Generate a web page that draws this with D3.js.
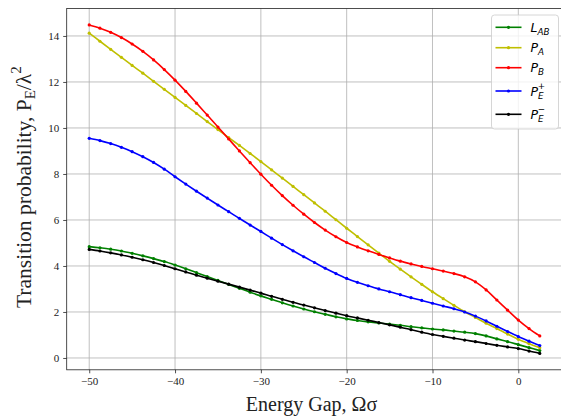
<!DOCTYPE html>
<html>
<head>
<meta charset="utf-8">
<script src="https://cdn.jsdelivr.net/npm/d3@7"></script>
<style>
body { margin:0; background:#fff; }
svg { display:block; }
</style>
</head>
<body>
<svg id="chart"></svg>
<script>
// energy gap values (x)
const energyGap = [-50, -48.75, -47.5, -46.25, -45, -43.75, -42.5, -41.25, -40, -38.75, -37.5, -36.25,
  -35, -33.75, -32.5, -31.25, -30, -28.75, -27.5, -26.25, -25, -23.75, -22.5, -21.25, -20, -18.75,
  -17.5, -16.25, -15, -13.75, -12.5, -11.25, -10, -8.75, -7.5, -6.25, -5, -3.75, -2.5, -1.25, 0, 1.25, 2.5];

const L_AB = [4.84, 4.79, 4.73, 4.65, 4.55, 4.44, 4.32, 4.19, 4.04, 3.88, 3.71, 3.54,
  3.37, 3.2, 3.03, 2.86, 2.7, 2.55, 2.4, 2.26, 2.13, 2.01, 1.9, 1.79, 1.7, 1.63,
  1.57, 1.52, 1.47, 1.42, 1.36, 1.31, 1.26, 1.22, 1.17, 1.12, 1.06, 0.96, 0.83, 0.71, 0.58, 0.45, 0.32];

const P_A = [14.12, 13.77, 13.42, 13.07, 12.72, 12.38, 12.03, 11.68, 11.33, 10.98, 10.63, 10.28,
  9.93, 9.58, 9.24, 8.89, 8.54, 8.18, 7.82, 7.46, 7.1, 6.74, 6.38, 6.01, 5.64, 5.28,
  4.92, 4.56, 4.2, 3.86, 3.53, 3.2, 2.88, 2.58, 2.29, 2.01, 1.76, 1.51, 1.28, 1.04, 0.81, 0.62, 0.45];

const P_B = [14.48, 14.34, 14.16, 13.93, 13.65, 13.33, 12.96, 12.54, 12.08, 11.59, 11.08, 10.56,
  10.04, 9.52, 9.0, 8.49, 7.99, 7.51, 7.06, 6.64, 6.25, 5.89, 5.56, 5.27, 5.02, 4.83,
  4.66, 4.5, 4.35, 4.21, 4.09, 3.98, 3.88, 3.78, 3.67, 3.53, 3.31, 2.96, 2.52, 2.08, 1.65, 1.28, 0.96];

const P_E_plus = [9.55, 9.45, 9.32, 9.16, 8.97, 8.75, 8.5, 8.21, 7.88, 7.56, 7.25, 6.95,
  6.65, 6.36, 6.07, 5.78, 5.5, 5.21, 4.93, 4.66, 4.4, 4.15, 3.9, 3.67, 3.46, 3.29,
  3.14, 3.0, 2.88, 2.75, 2.62, 2.5, 2.38, 2.26, 2.14, 2.0, 1.82, 1.61, 1.38, 1.15, 0.93, 0.73, 0.54];

const P_E_minus = [4.72, 4.65, 4.57, 4.48, 4.38, 4.27, 4.15, 4.02, 3.88, 3.74, 3.6, 3.47,
  3.34, 3.21, 3.08, 2.95, 2.82, 2.68, 2.55, 2.42, 2.3, 2.18, 2.06, 1.95, 1.84, 1.74,
  1.64, 1.54, 1.44, 1.34, 1.23, 1.12, 1.02, 0.94, 0.86, 0.78, 0.71, 0.63, 0.55, 0.48, 0.41, 0.3, 0.2];

const xTicks = [-50, -40, -30, -20, -10, 0];
const yTicks = [0, 2, 4, 6, 8, 10, 12, 14];

const seriesNames = ["L_AB", "P_A", "P_B", "P_E_plus", "P_E_minus"];
const seriesColors = ["#008000", "#bfbf00", "#ff0000", "#0000ff", "#000000"];
// legend label: main letter, subscript, optional superscript
const legendMain = ["L", "P", "P", "P", "P"];
const legendSub = ["AB", "A", "B", "E", "E"];
const legendSup = ["", "", "", "+", "\u2212"];

const seriesValues = [L_AB, P_A, P_B, P_E_plus, P_E_minus];

var svgWidth = 561, svgHeight = 417;
var margin = {top: 8.5, left: 66.7};
var width = 495.6, height = 361.3;
var serif = "Liberation Serif, Times New Roman, serif";

var svg = d3.select("#chart")
  .attr("width", svgWidth)
  .attr("height", svgHeight);

var g = svg.append("g")
  .attr("transform", "translate(" + margin.left + "," + margin.top + ")");

var x = d3.scaleLinear().domain([-52.625, 5.125]).range([0, width]);
var y = d3.scaleLinear().domain([-0.514, 15.194]).range([height, 0]);

// grid
g.append("g").selectAll("line").data(xTicks).enter().append("line")
  .attr("x1", d => x(d)).attr("x2", d => x(d))
  .attr("y1", 0).attr("y2", height)
  .attr("stroke", "#b0b0b0").attr("stroke-width", 0.8);
g.append("g").selectAll("line").data(yTicks).enter().append("line")
  .attr("y1", d => y(d)).attr("y2", d => y(d))
  .attr("x1", 0).attr("x2", width)
  .attr("stroke", "#b0b0b0").attr("stroke-width", 0.8);

var fmt = d => d < 0 ? "\u2212" + Math.abs(d) : String(d);

g.append("g")
  .attr("transform", "translate(0," + height + ")")
  .call(d3.axisBottom(x).tickValues(xTicks).tickFormat(fmt).tickSize(3.5).tickPadding(4))
  .call(a => a.select(".domain").remove())
  .attr("font-family", serif).attr("font-size", 11);

g.append("g")
  .call(d3.axisLeft(y).tickValues(yTicks).tickFormat(fmt).tickSize(3.5).tickPadding(4))
  .call(a => a.select(".domain").remove())
  .attr("font-family", serif).attr("font-size", 11);

g.selectAll(".tick line").attr("stroke", "#222").attr("stroke-width", 0.8);
g.selectAll(".tick text").attr("fill", "#222");

// lines + markers
var line = d3.line()
  .x((d, i) => x(energyGap[i]))
  .y(d => y(d))
  .curve(d3.curveCatmullRom);

seriesValues.forEach(function(vals, k) {
  g.append("path")
    .datum(vals)
    .attr("fill", "none")
    .attr("stroke", seriesColors[k])
    .attr("stroke-width", 1.6)
    .attr("stroke-linejoin", "round")
    .attr("d", line);
  g.append("g").selectAll("circle").data(vals).enter().append("circle")
    .attr("cx", (d, i) => x(energyGap[i]))
    .attr("cy", d => y(d))
    .attr("r", 1.6)
    .attr("fill", seriesColors[k]);
});

// spines
g.append("rect")
  .attr("width", width).attr("height", height)
  .attr("fill", "none").attr("stroke", "#222").attr("stroke-width", 0.8);

// legend
var lg = svg.append("g").attr("transform", "translate(491.5,15)");
lg.append("rect")
  .attr("width", 67).attr("height", 114).attr("rx", 3)
  .attr("fill", "#fff").attr("fill-opacity", 0.8)
  .attr("stroke", "#cccccc").attr("stroke-width", 0.8);

var rowY = [12.3, 32.7, 52.7, 76, 99.3];
seriesNames.forEach(function(name, k) {
  var row = lg.append("g").attr("transform", "translate(0," + rowY[k] + ")");
  row.append("line").attr("x1", 4).attr("x2", 30).attr("y1", 0).attr("y2", 0)
    .attr("stroke", seriesColors[k]).attr("stroke-width", 1.6);
  row.append("circle").attr("cx", 17).attr("cy", 0).attr("r", 1.6).attr("fill", seriesColors[k]);
  var t = row.append("text").attr("x", 39).attr("y", 4.5)
    .attr("font-family", "DejaVu Sans, sans-serif").attr("font-style", "italic")
    .attr("font-size", 12.5).attr("fill", "#000");
  t.append("tspan").text(legendMain[k]);
  t.append("tspan").attr("dy", 3).attr("font-size", 8.8).text(legendSub[k]);
  if (legendSup[k]) {
    t.append("tspan").attr("dx", -5.8).attr("dy", -10).attr("font-size", 8.8).text(legendSup[k]);
  }
});

// axis labels
svg.append("text")
  .attr("x", margin.left + width / 2 - 3).attr("y", 411)
  .attr("text-anchor", "middle")
  .attr("font-family", serif)
  .attr("font-size", 20).attr("fill", "#222")
  .text("Energy Gap, \u03A9\u03C3");

var yl = svg.append("text")
  .attr("transform", "translate(31," + (margin.top + height / 2 - 2) + ") rotate(-90)")
  .attr("text-anchor", "middle")
  .attr("font-family", serif)
  .attr("font-size", 21.5).attr("fill", "#222");
yl.append("tspan").text("Transition probability, P");
yl.append("tspan").attr("dy", 4).attr("font-size", 15).text("E");
yl.append("tspan").attr("dy", -4).text("/\u03BB");
yl.append("tspan").attr("dy", -10).attr("font-size", 15).text("2");
</script>
</body>
</html>
